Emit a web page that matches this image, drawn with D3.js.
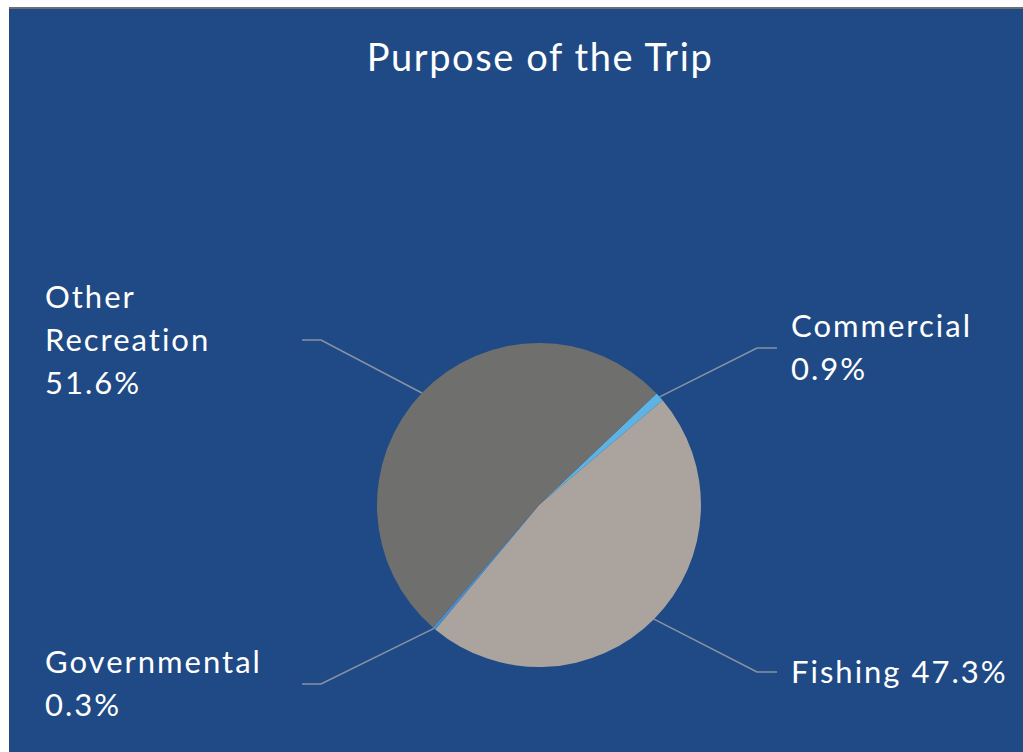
<!DOCTYPE html>
<html>
<head>
<meta charset="utf-8">
<script src="https://cdn.jsdelivr.net/npm/d3@7"></script>
<style>
  html, body { margin: 0; padding: 0; background: #ffffff; }
  svg { display: block; }
</style>
</head>
<body>
<svg id="chart" width="1023" height="752"></svg>
<script>
// Trip purpose shares (percent)
const categories = ["Commercial", "Fishing", "Governmental", "Other Recreation"];
const values = [0.9, 47.3, 0.3, 51.6];
const labelLines = [["Commercial", "0.9%"], ["Fishing 47.3%"], ["Governmental", "0.3%"], ["Other", "Recreation", "51.6%"]];
const colors = ["#5cb3e4", "#aaa39e", "#4a8fd0", "#6f706e"];

const W = 1023, H = 752;
const svg = d3.select("#chart");

// panel background with thin grey top rule
svg.append("rect").attr("x", 9).attr("y", 9).attr("width", W - 9).attr("height", H - 9).attr("fill", "#1f4a85");
svg.append("rect").attr("x", 9).attr("y", 7).attr("width", W - 9).attr("height", 2).attr("fill", "#6b6e73");

svg.append("text")
  .attr("x", 540).attr("y", 71)
  .attr("text-anchor", "middle")
  .attr("fill", "#ffffff")
  .style("font-family", "Lato, 'Open Sans', sans-serif")
  .style("font-size", "38px")
  .style("letter-spacing", "1.6px")
  .text("Purpose of the Trip");

const cx = 539, cy = 505, R = 162;
const startDeg = 46.5;
const pie = d3.pie().sort(null)
  .startAngle(startDeg * Math.PI / 180)
  .endAngle(startDeg * Math.PI / 180 + 2 * Math.PI);
const arcs = pie(values);
const arc = d3.arc().innerRadius(0).outerRadius(R);

const g = svg.append("g").attr("transform", `translate(${cx},${cy})`);
g.selectAll("path.slice").data(arcs).enter().append("path")
  .attr("class", "slice")
  .attr("d", arc)
  .attr("fill", (d, i) => colors[i]);

// label placement: side, elbow y, text x, first baseline
const labelPos = [
  { side: 1, y: 348, tx: 791, base: 337 },
  { side: 1, y: 672, tx: 791, base: 683 },
  { side: -1, y: 684, tx: 45, base: 673 },
  { side: -1, y: 340, tx: 45, base: 308 }
];

const lineGroup = svg.append("g");
arcs.forEach((d, i) => {
  const a = (d.startAngle + d.endAngle) / 2;
  const px = cx + R * Math.sin(a);
  const py = cy - R * Math.cos(a);
  const p = labelPos[i];
  const elbowX = p.side > 0 ? 757 : 321;
  const endX = p.side > 0 ? 777 : 302;
  lineGroup.append("polyline")
    .attr("points", `${px},${py} ${elbowX},${p.y} ${endX},${p.y}`)
    .attr("fill", "none")
    .attr("stroke", "#8793a3")
    .attr("stroke-width", 1.6);

  const t = svg.append("text")
    .attr("fill", "#ffffff")
    .style("font-family", "Lato, 'Open Sans', sans-serif")
    .style("font-size", "31px")
    .style("letter-spacing", "2px");
  labelLines[i].forEach((s, k) => {
    t.append("tspan").attr("x", p.tx).attr("y", p.base + k * 43).text(s);
  });
});
</script>
</body>
</html>
